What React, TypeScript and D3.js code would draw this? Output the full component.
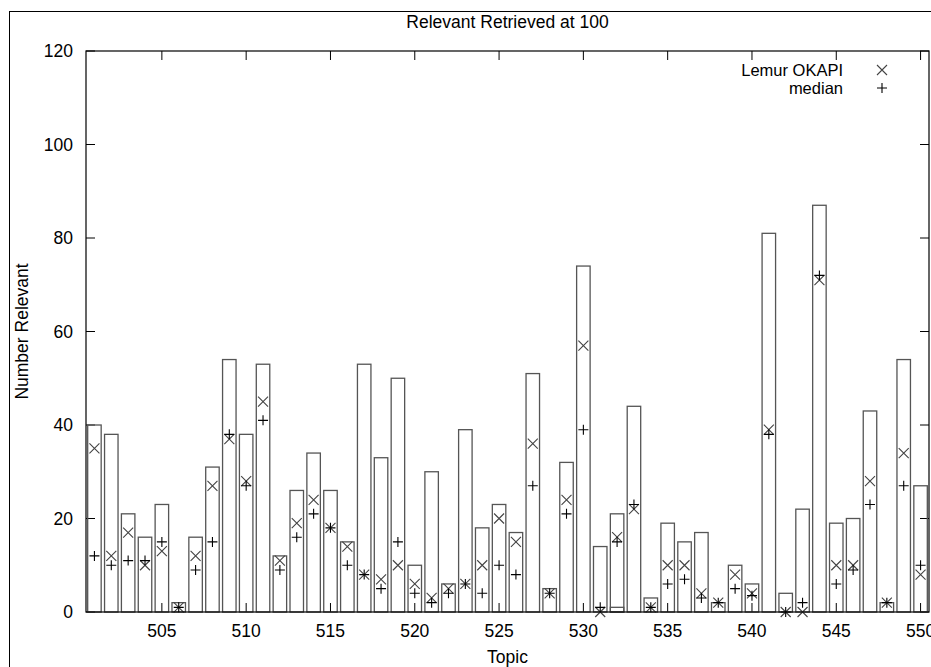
import * as d3 from "d3";

const topics = [
  501, 502, 503, 504, 505, 506, 507, 508, 509, 510,
  511, 512, 513, 514, 515, 516, 517, 518, 519, 520,
  521, 522, 523, 524, 525, 526, 527, 528, 529, 530,
  531, 532, 533, 534, 535, 536, 537, 538, 539, 540,
  541, 542, 543, 544, 545, 546, 547, 548, 549, 550,
];

// total relevant per topic (boxes)
const relevant = [
  40, 38, 21, 16, 23, 2, 16, 31, 54, 38,
  53, 12, 26, 34, 26, 15, 53, 33, 50, 10,
  30, 6, 39, 18, 23, 17, 51, 5, 32, 74,
  14, 21, 44, 3, 19, 15, 17, 2, 10, 6,
  81, 4, 22, 87, 19, 20, 43, 2, 54, 27,
];

const okapi = [
  35, 12, 17, 10, 13, 1, 12, 27, 37, 28,
  45, 11, 19, 24, 18, 14, 8, 7, 10, 6,
  3, 5, 6, 10, 20, 15, 36, 4, 24, 57,
  0, 16, 22, 1, 10, 10, 4, 2, 8, 4,
  39, 0, 0, 71, 10, 10, 28, 2, 34, 8,
];

const median = [
  12, 10, 11, 11, 15, 1, 9, 15, 38, 27,
  41, 9, 16, 21, 18, 10, 8, 5, 15, 4,
  2, 4, 6, 4, 10, 8, 27, 4, 21, 39,
  1, 15, 23, 1, 6, 7, 3, 2, 5, 3.5,
  38, 0, 2, 72, 6, 9, 23, 2, 27, 10,
];

// a second, tiny box drawn inside topic 532
const extraTopics = [532];
const extraValues = [1];

const xTicks = [505, 510, 515, 520, 525, 530, 535, 540, 545, 550];
const yTicks = [0, 20, 40, 60, 80, 100, 120];

const FONT = "'Liberation Sans', Arial, Helvetica, sans-serif";

export default function App() {
  const left = 86, right = 929, top = 51, bottom = 612;
  const x = d3.scaleLinear().domain([500.5, 550.5]).range([left, right]);
  const y = d3.scaleLinear().domain([0, 120]).range([bottom, top]);
  const bw = (x(1) - x(0)) * 0.8;
  const tick = 9;
  const m = 5; // marker half size

  const cross = (cx: number, cy: number) =>
    `M${cx - m},${cy - m}L${cx + m},${cy + m}M${cx - m},${cy + m}L${cx + m},${cy - m}`;
  const plus = (cx: number, cy: number) =>
    `M${cx - m},${cy}L${cx + m},${cy}M${cx},${cy - m}L${cx},${cy + m}`;

  return (
    <svg
      width={931}
      height={667}
      style={{ position: "absolute", left: 0, top: 0, background: "#fff" }}
      fontFamily={FONT}
    >
      <rect x={9.5} y={11.5} width={1000} height={1000} fill="none" stroke="#000" />
      <text x={(left + right) / 2} y={28} textAnchor="middle" fontSize={17.5}>
        Relevant Retrieved at 100
      </text>

      {/* ticks */}
      <g stroke="#000" strokeWidth={1}>
        {yTicks.map((t) => (
          <g key={"y" + t}>
            <line x1={left} x2={left + tick} y1={y(t)} y2={y(t)} />
            <line x1={right - tick} x2={right} y1={y(t)} y2={y(t)} />
          </g>
        ))}
        {xTicks.map((t) => (
          <g key={"x" + t}>
            <line x1={x(t)} x2={x(t)} y1={bottom} y2={bottom - tick} />
            <line x1={x(t)} x2={x(t)} y1={top} y2={top + tick} />
          </g>
        ))}
      </g>

      <g fontSize={17.5}>
        {yTicks.map((t) => (
          <text key={"yl" + t} x={73} y={y(t) + 6} textAnchor="end">
            {t}
          </text>
        ))}
        {xTicks.map((t) => (
          <text key={"xl" + t} x={x(t)} y={637} textAnchor="middle">
            {t}
          </text>
        ))}
      </g>

      <text x={(left + right) / 2} y={663} textAnchor="middle" fontSize={17.5}>
        Topic
      </text>
      <text
        transform={`translate(28,${(top + bottom) / 2}) rotate(-90)`}
        textAnchor="middle"
        fontSize={17.5}
      >
        Number Relevant
      </text>

      {/* boxes */}
      <g fill="none" stroke="#555" strokeWidth={1.3}>
        {topics.map((t, i) => (
          <rect
            key={"b" + t}
            x={x(t) - bw / 2}
            y={y(relevant[i])}
            width={bw}
            height={bottom - y(relevant[i])}
          />
        ))}
        {extraTopics.map((t, i) => (
          <rect
            key={"e" + t}
            x={x(t) - bw / 2}
            y={y(extraValues[i])}
            width={bw}
            height={bottom - y(extraValues[i])}
          />
        ))}
      </g>

      {/* markers */}
      <g fill="none" strokeWidth={1.1}>
        {topics.map((t, i) => (
          <path key={"o" + t} d={cross(x(t), y(okapi[i]))} stroke="#444" />
        ))}
        {topics.map((t, i) => (
          <path key={"m" + t} d={plus(x(t), y(median[i]))} stroke="#000" />
        ))}
      </g>

      {/* legend */}
      <g fontSize={16.5}>
        <text x={843} y={76} textAnchor="end">Lemur OKAPI</text>
        <text x={843} y={94} textAnchor="end">median</text>
        <path d={cross(882, 70)} stroke="#444" strokeWidth={1.1} fill="none" />
        <path d={plus(882, 88)} stroke="#000" strokeWidth={1.1} fill="none" />
      </g>

      {/* frame */}
      <rect
        x={left}
        y={top}
        width={right - left}
        height={bottom - top}
        fill="none"
        stroke="#000"
        strokeWidth={1.2}
      />
    </svg>
  );
}
